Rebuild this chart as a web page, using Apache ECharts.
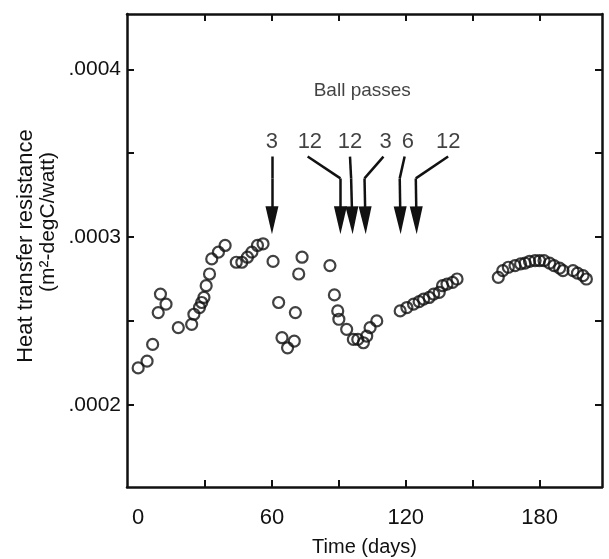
<!DOCTYPE html>
<html>
<head>
<meta charset="utf-8">
<script src="https://cdn.jsdelivr.net/npm/echarts@6/dist/echarts.min.js"></script>
<style>
  html, body { margin: 0; padding: 0; background: #fff; }
  #chart { width: 609px; height: 559px; }
</style>
</head>
<body>
<div id="chart"></div>
<script>
  // time in days
  var days = [0, 4, 6.5, 9, 10, 12.5, 18, 24, 25, 27.5, 28.5, 29.5, 30.5, 32, 33, 36, 39,
    44, 46.5, 49, 51, 53.5, 56, 60.5, 63, 64.5, 67, 70, 70.5, 72, 73.5,
    86, 88, 89.5, 90, 93.5, 96.5, 98.5, 101, 102.5, 104, 107,
    117.5, 120.5, 123.5, 126, 128, 130.5, 132.5, 135, 136.5, 138.5, 141, 143,
    161.5, 163.5, 166, 169, 171.5, 173.5, 175.5, 178, 180, 182, 184.5, 186.5, 189, 190.5,
    195, 197, 199.5, 201];
  // heat transfer resistance, m2-degC/watt
  var resistance = [2.22e-4, 2.26e-4, 2.36e-4, 2.55e-4, 2.66e-4, 2.60e-4, 2.46e-4, 2.48e-4, 2.54e-4,
    2.58e-4, 2.61e-4, 2.64e-4, 2.71e-4, 2.78e-4, 2.87e-4, 2.91e-4, 2.95e-4,
    2.85e-4, 2.85e-4, 2.88e-4, 2.91e-4, 2.95e-4, 2.96e-4, 2.855e-4, 2.61e-4, 2.40e-4, 2.34e-4,
    2.38e-4, 2.55e-4, 2.78e-4, 2.88e-4,
    2.83e-4, 2.655e-4, 2.56e-4, 2.51e-4, 2.45e-4, 2.39e-4, 2.39e-4, 2.37e-4, 2.41e-4, 2.46e-4, 2.50e-4,
    2.56e-4, 2.58e-4, 2.60e-4, 2.615e-4, 2.63e-4, 2.64e-4, 2.66e-4, 2.67e-4, 2.71e-4, 2.72e-4, 2.73e-4, 2.75e-4,
    2.76e-4, 2.80e-4, 2.82e-4, 2.83e-4, 2.84e-4, 2.845e-4, 2.855e-4, 2.86e-4, 2.86e-4, 2.86e-4,
    2.845e-4, 2.83e-4, 2.815e-4, 2.80e-4, 2.80e-4, 2.785e-4, 2.77e-4, 2.75e-4];

  var xTicks = [30, 60, 90, 120, 150, 180];
  var xLabels = [0, 60, 120, 180];
  var yTicks = [2e-4, 2.5e-4, 3e-4, 3.5e-4, 4e-4];
  var yLabels = [2e-4, 3e-4, 4e-4];

  // ball pass arrows: number of passes, label position, bend point, tip
  var passCounts = ['3', '12', '12', '3', '6', '12'];
  var passLabelX = [60, 77, 95, 111, 121, 139];
  var passStartX = [60, 76, 95, 110, 119.5, 139];
  var passBendX = [60, 90.7, 95.5, 101.5, 117.3, 124.5];
  var passTipX = [60, 90.7, 96, 101.9, 117.6, 124.8];
  var passLabelY = 3.57e-4;
  var passStartY = 3.48e-4;
  var passBendY = 3.35e-4;
  var passTipY = 3.10e-4;
  var passTitle = 'Ball passes';
  var passTitlePos = [100.5, 3.87e-4];

  var chart = echarts.init(document.getElementById('chart'));
  var font = 'Liberation Sans, Arial, sans-serif';
  var black = '#111';
  // long narrow arrow head, padded with moves so its box stays square
  var arrowHead = 'path://M-7.5,28 M20.5,28 M6.5,0 L13,28 L0,28 Z';

  var points = days.map(function (d, i) { return [d, resistance[i]]; });
  var shafts = passCounts.map(function (c, i) {
    return { coords: [[passStartX[i], passStartY], [passBendX[i], passBendY]] };
  });
  var heads = passCounts.map(function (c, i) {
    return { coords: [[passBendX[i], passBendY], [passTipX[i], passTipY]] };
  });
  var passText = passCounts.map(function (c, i) { return [passLabelX[i], passLabelY, c]; });

  function yFmt(v) {
    return '.' + ('000' + Math.round(v * 1e4)).slice(-4);
  }

  var xBase = {
    type: 'value', min: -5, max: 208,
    splitLine: { show: false },
    axisLine: { show: true, onZero: false, lineStyle: { color: black, width: 2.5 } },
    axisTick: { inside: true, length: 7, customValues: xTicks, lineStyle: { color: black, width: 2 } }
  };
  var yBase = {
    type: 'value', min: 1.51e-4, max: 4.33e-4,
    splitLine: { show: false },
    axisLine: { show: true, onZero: false, lineStyle: { color: black, width: 2.5 } },
    axisTick: { inside: true, length: 7, customValues: yTicks, lineStyle: { color: black, width: 2 } }
  };

  var option = {
    backgroundColor: '#fff',
    animation: false,
    grid: { left: 127, right: 7, top: 14, bottom: 72, containLabel: false, outerBoundsMode: 'none' },
    graphic: [
      {
        type: 'text', x: 26, y: 246, rotation: Math.PI / 2,
        style: { text: 'Heat transfer resistance', fill: black, font: '22px Liberation Sans, Arial, sans-serif',
          align: 'center', verticalAlign: 'middle' }
      },
      {
        type: 'text', x: 48, y: 222, rotation: Math.PI / 2,
        style: { text: '(m\u00b2-degC/watt)', fill: black, font: '21px Liberation Sans, Arial, sans-serif',
          align: 'center', verticalAlign: 'middle' }
      }
    ],
    xAxis: [
      Object.assign({}, xBase, {
        position: 'bottom',
        name: 'Time (days)', nameLocation: 'middle', nameGap: 50,
        nameTextStyle: { fontFamily: font, fontSize: 20, color: black },
        axisLabel: { customValues: xLabels, margin: 20, fontFamily: font, fontSize: 22, color: black }
      }),
      Object.assign({}, xBase, { position: 'top', axisLabel: { show: false } })
    ],
    yAxis: [
      Object.assign({}, yBase, {
        position: 'left',
        axisLabel: { customValues: yLabels, formatter: yFmt, margin: 6, fontFamily: font, fontSize: 21, color: black }
      }),
      Object.assign({}, yBase, { position: 'right', axisLabel: { show: false } })
    ],
    series: [
      {
        type: 'scatter',
        data: points,
        symbol: 'circle',
        symbolSize: 11,
        itemStyle: { color: 'rgba(0,0,0,0)', borderColor: black, borderWidth: 2.2 }
      },
      {
        type: 'lines',
        coordinateSystem: 'cartesian2d',
        data: shafts,
        symbol: ['none', 'none'],
        lineStyle: { color: black, width: 2.5, opacity: 1, curveness: 0 }
      },
      {
        type: 'lines',
        coordinateSystem: 'cartesian2d',
        data: heads,
        symbol: ['none', arrowHead],
        symbolSize: 28,
        lineStyle: { color: black, width: 2.5, opacity: 1, curveness: 0 },
        itemStyle: { color: black }
      },
      {
        type: 'scatter',
        data: passText,
        symbolSize: 1,
        itemStyle: { color: 'rgba(0,0,0,0)' },
        label: {
          show: true, position: 'inside', color: black, fontFamily: font, fontSize: 22,
          formatter: function (p) { return p.data[2]; }
        }
      },
      {
        type: 'scatter',
        data: [[passTitlePos[0], passTitlePos[1], passTitle]],
        symbolSize: 1,
        itemStyle: { color: 'rgba(0,0,0,0)' },
        label: {
          show: true, position: 'inside', color: black, fontFamily: font, fontSize: 19,
          formatter: function (p) { return p.data[2]; }
        }
      }
    ]
  };
  chart.setOption(option);
</script>
</body>
</html>
